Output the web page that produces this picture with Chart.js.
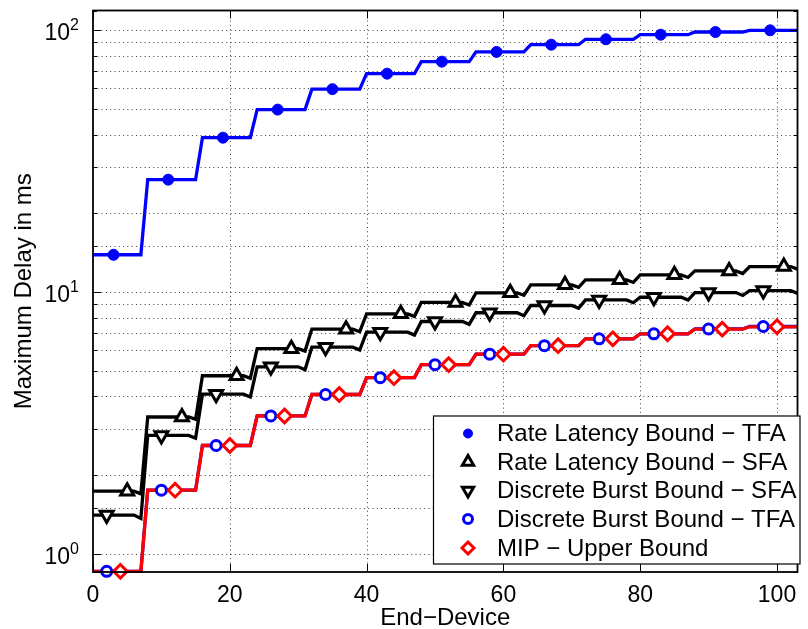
<!DOCTYPE html>
<html>
<head>
<meta charset="utf-8">
<script src="https://cdn.jsdelivr.net/npm/chart.js@4.4.1/dist/chart.umd.min.js"></script>
<style>
  html, body { margin: 0; padding: 0; background: #fff; }
  canvas { display: block; }
</style>
</head>
<body>
<canvas id="delayChart" width="808" height="629"></canvas>
<script>
// --- Data ---
// the bounds step up once per group of 8 end-devices
const groupStart = [0, 8, 16, 24, 32, 40, 48, 56, 64, 72, 80, 88, 96];
const groupEnd   = [7, 15, 23, 31, 39, 47, 55, 63, 71, 79, 87, 95, 103];

// level of each step (ms)
const rateLatencyTFA = [13.9, 26.9, 38.9, 49.8, 59.6, 68.3, 75.9, 82.7, 88.1, 92.4, 96.2, 98.5, 100.0];
const rateLatencySFA = [1.74, 3.34, 4.80, 6.09, 7.23, 8.27, 9.14, 9.95, 10.67, 11.15, 11.65, 12.06, 12.53];
const discreteBurstSFA = [1.41, 2.84, 4.08, 5.19, 6.17, 7.04, 7.73, 8.35, 8.90, 9.35, 9.57, 9.97, 10.15];
const discreteBurstTFA = [0.86, 1.755, 2.60, 3.37, 4.07, 4.72, 5.29, 5.80, 6.25, 6.64, 6.94, 7.24, 7.40];
const mipUpper = [0.86, 1.755, 2.60, 3.37, 4.07, 4.72, 5.29, 5.80, 6.25, 6.64, 6.94, 7.23, 7.38];

// the SFA curves dip a little on the last device of each group
const rateLatencySFAEnd = [1.70, 3.27, 4.69, 5.96, 7.07, 8.09, 8.94, 9.73, 10.44, 10.90, 11.39, 11.79, 12.25];
const discreteBurstSFAEnd = [1.37, 2.77, 3.98, 5.06, 6.02, 6.86, 7.54, 8.14, 8.68, 9.12, 9.33, 9.72, 9.90];

// device (inside each group) where the marker sits
const markOffsetRLTFA = 3, markOffsetRLSFA = 5, markOffsetDBSFA = 2, markOffsetDBTFA = 2, markOffsetMIP = 4;

const xTicks = [0, 20, 40, 60, 80, 100];
const yDecades = [1, 10, 100];
const yDecadeExp = ['0', '1', '2'];

const FONT = '"Liberation Sans", Arial, Helvetica, sans-serif';

// --- Helpers ---
function stepLine(levels, ends) {
    const pts = [];
    groupStart.forEach((x0, g) => {
        pts.push({ x: x0, y: levels[g] });
        pts.push({ x: groupEnd[g] - 1, y: levels[g] });
        pts.push({ x: groupEnd[g], y: ends[g] });
    });
    return pts;
}

function markers(levels, offset) {
    return groupStart.map((x0, g) => ({ x: x0 + offset, y: levels[g] }));
}

const series = [
    { label: 'Rate Latency Bound \u2212 TFA', levels: rateLatencyTFA, ends: rateLatencyTFA, off: markOffsetRLTFA,
      color: '#0000ff', style: 'circle', radius: 5.5, legR: 4.5, rot: 0, fill: '#0000ff', bw: 1 },
    { label: 'Rate Latency Bound \u2212 SFA', levels: rateLatencySFA, ends: rateLatencySFAEnd, off: markOffsetRLSFA,
      color: '#000000', style: 'triangle', radius: 7.5, legR: 6.5, rot: 0, fill: '#ffffff', bw: 3 },
    { label: 'Discrete Burst Bound \u2212 SFA', levels: discreteBurstSFA, ends: discreteBurstSFAEnd, off: markOffsetDBSFA,
      color: '#000000', style: 'triangle', radius: 7.5, legR: 6.5, rot: 180, fill: '#ffffff', bw: 3 },
    { label: 'Discrete Burst Bound \u2212 TFA', levels: discreteBurstTFA, ends: discreteBurstTFA, off: markOffsetDBTFA,
      color: '#0000ff', style: 'circle', radius: 5, legR: 4.5, rot: 0, fill: '#ffffff', bw: 3 },
    { label: 'MIP \u2212 Upper Bound', levels: mipUpper, ends: mipUpper, off: markOffsetMIP,
      color: '#ff0000', style: 'rectRot', radius: 6.8, legR: 6, rot: 0, fill: '#ffffff', bw: 3 }
];

// lines first (underneath), markers above; lower order = drawn later
const datasets = [];
series.forEach((s, i) => {
    datasets.push({
        type: 'line', label: s.label, data: stepLine(s.levels, s.ends),
        borderColor: s.color, borderWidth: 3.3, pointRadius: 0, fill: false,
        tension: 0, clip: false, order: 20 - i
    });
    datasets.push({
        type: 'line', label: s.label + ' markers', data: markers(s.levels, s.off),
        showLine: false, pointStyle: s.style, pointRadius: s.radius, pointRotation: s.rot,
        pointBackgroundColor: s.fill, pointBorderColor: s.color, pointBorderWidth: s.bw,
        clip: false, order: 10 - i
    });
});

// --- dotted MATLAB grid under the data ---
const dottedGrid = {
    id: 'dottedGrid',
    beforeDatasetsDraw(chart) {
        const ctx = chart.ctx;
        const a = chart.chartArea;
        const xs = chart.scales.x, ys = chart.scales.y;
        ctx.save();
        ctx.strokeStyle = 'rgba(0,0,0,0.75)';
        ctx.lineWidth = 1;
        ctx.setLineDash([1, 3.3]);
        ctx.beginPath();
        xTicks.forEach(v => {
            if (v <= xs.min) return;
            const px = Math.round(xs.getPixelForValue(v)) + 0.5;
            ctx.moveTo(px, a.bottom); ctx.lineTo(px, a.top);
        });
        ys.ticks.forEach(t => {
            if (t.value <= ys.min || t.value >= ys.max) return;
            const py = Math.round(ys.getPixelForValue(t.value)) + 0.5;
            ctx.moveTo(a.left, py); ctx.lineTo(a.right, py);
        });
        ctx.stroke();
        ctx.restore();
    }
};

// --- frame, inward ticks, y labels and legend ---
const matlabFrame = {
    id: 'matlabFrame',
    afterDraw(chart) {
        const ctx = chart.ctx;
        const a = chart.chartArea;
        const xs = chart.scales.x, ys = chart.scales.y;
        ctx.save();
        ctx.strokeStyle = '#000';
        ctx.lineWidth = 1;
        ctx.beginPath();
        xTicks.forEach(v => {
            const px = Math.round(xs.getPixelForValue(v)) + 0.5;
            ctx.moveTo(px, a.bottom); ctx.lineTo(px, a.bottom - 8);
            ctx.moveTo(px, a.top); ctx.lineTo(px, a.top + 8);
        });
        ys.ticks.forEach(t => {
            if (t.value < ys.min || t.value > ys.max) return;
            const py = Math.round(ys.getPixelForValue(t.value)) + 0.5;
            const len = yDecades.includes(t.value) ? 8 : 4;
            ctx.moveTo(a.left, py); ctx.lineTo(a.left + len, py);
            ctx.moveTo(a.right, py); ctx.lineTo(a.right - len, py);
        });
        ctx.stroke();

        ctx.lineWidth = 1.8;
        ctx.strokeRect(a.left, a.top, a.right - a.left, a.bottom - a.top);

        // y decade labels 10^n
        ctx.fillStyle = '#000';
        ctx.textAlign = 'right';
        ctx.textBaseline = 'alphabetic';
        yDecades.forEach((v, i) => {
            const py = ys.getPixelForValue(v);
            ctx.font = '16px ' + FONT;
            const ew = ctx.measureText(yDecadeExp[i]).width;
            ctx.fillText(yDecadeExp[i], 79, py);
            ctx.font = '23px ' + FONT;
            ctx.fillText('10', 79 - ew, py + 9.5);
        });

        // legend box
        const bx = 433.5, by = 416, bw = 366.5, bh = 148;
        ctx.fillStyle = '#fff';
        ctx.fillRect(bx, by, bw, bh);
        ctx.lineWidth = 1.2;
        ctx.strokeStyle = '#000';
        ctx.strokeRect(bx, by, bw, bh);
        const rowY = [433.5, 462, 490.5, 519, 548];
        const drawPoint = Chart.helpers && Chart.helpers.drawPoint;
        series.forEach((s, i) => {
            ctx.fillStyle = s.fill;
            ctx.strokeStyle = s.color;
            ctx.lineWidth = s.bw;
            if (drawPoint) {
                drawPoint(ctx, { pointStyle: s.style, radius: s.legR, rotation: s.rot, borderWidth: s.bw }, 468, rowY[i]);
            }
            ctx.fillStyle = '#000';
            ctx.font = '24px ' + FONT;
            ctx.textAlign = 'left';
            ctx.textBaseline = 'middle';
            ctx.fillText(s.label, 497, rowY[i] + 1);
        });
        ctx.restore();
    }
};

new Chart(document.getElementById('delayChart'), {
    type: 'line',
    data: { datasets: datasets },
    options: {
        responsive: false,
        animation: false,
        devicePixelRatio: 1,
        layout: { padding: { top: 9, right: 1, left: 0, bottom: 0 } },
        plugins: { legend: { display: false }, tooltip: { enabled: false } },
        scales: {
            x: {
                type: 'linear', min: 0, max: 103,
                grid: { display: false, drawTicks: false },
                border: { display: false },
                ticks: { stepSize: 20, includeBounds: false, padding: 10, color: '#000',
                         font: { family: FONT, size: 23 } },
                title: { display: true, text: 'End\u2212Device', color: '#000',
                         font: { family: FONT, size: 24, lineHeight: 0.9 }, padding: 0 },
                afterFit(scale) { scale.height = 57; }
            },
            y: {
                type: 'logarithmic', min: 0.855, max: 119,
                grid: { display: false, drawTicks: false },
                border: { display: false },
                ticks: { display: false },
                title: { display: true, text: 'Maximum Delay in ms', color: '#000',
                         font: { family: FONT, size: 24, lineHeight: 1.2 }, padding: { top: 10, bottom: 0 } },
                afterFit(scale) { scale.width = 93; }
            }
        }
    },
    plugins: [dottedGrid, matlabFrame]
});
</script>
</body>
</html>
